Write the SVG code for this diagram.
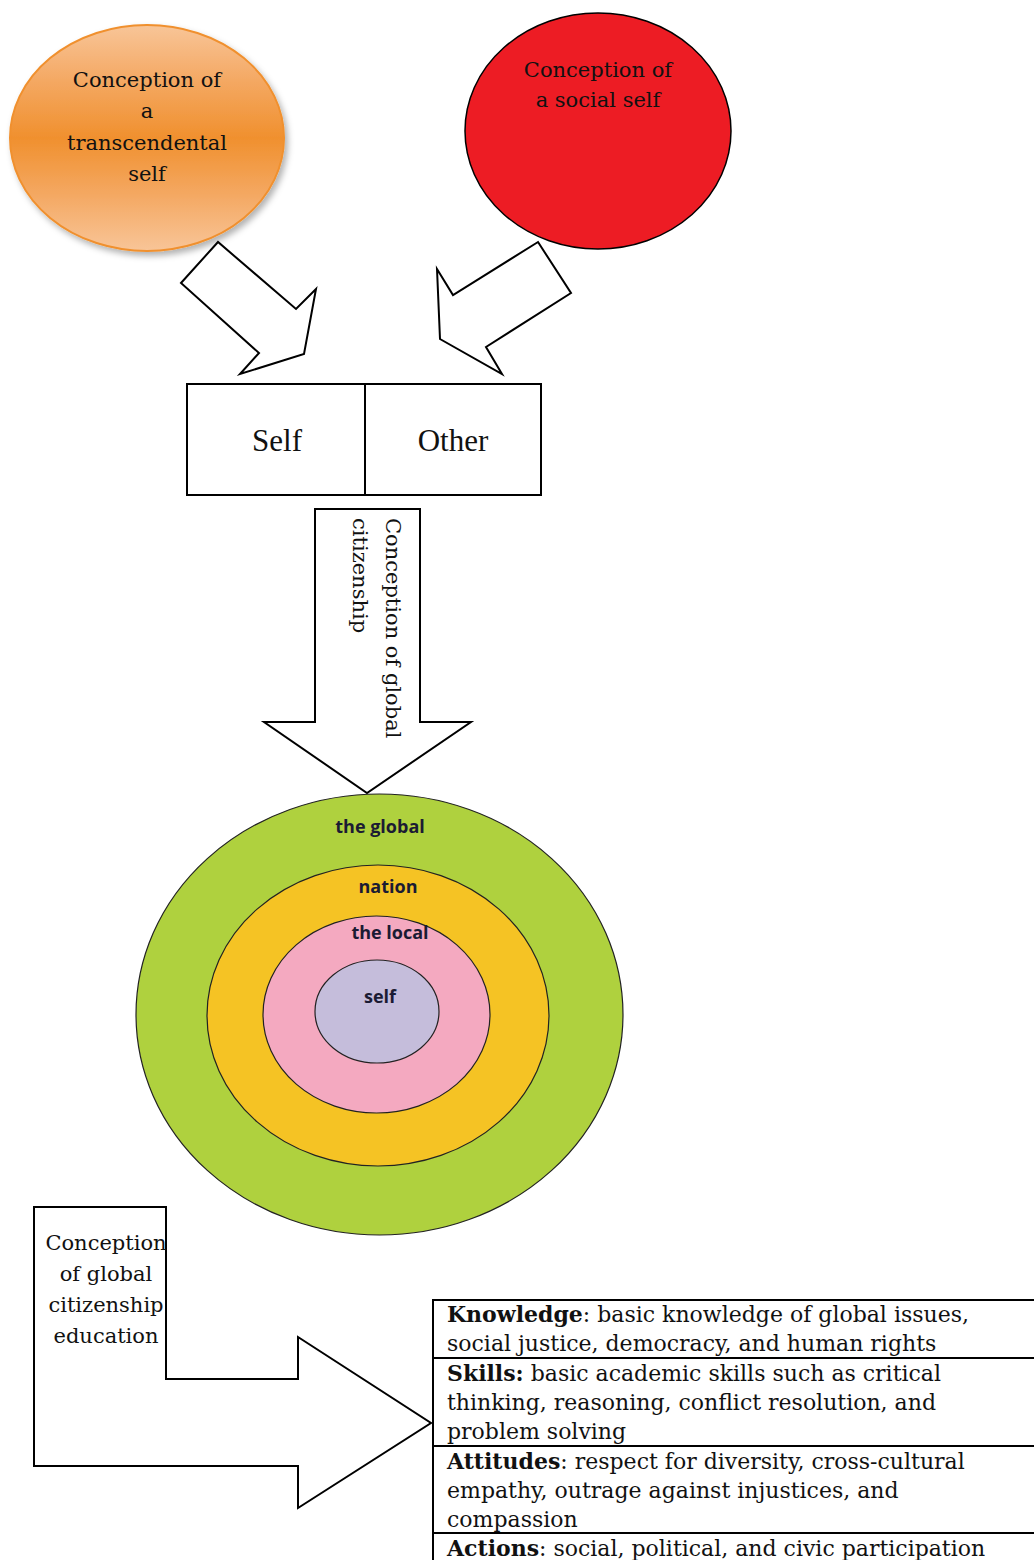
<svg xmlns="http://www.w3.org/2000/svg" width="1034" height="1560" viewBox="0 0 1034 1560">
<style>
.serif{font-family:"DejaVu Serif","Liberation Serif",serif;font-size:21px;fill:#111;}
.times{font-family:"Liberation Serif","Times New Roman",serif;font-size:31px;fill:#111;}
.lbl{font-family:"Open Sans","Lato",sans-serif;font-weight:bold;font-size:18px;fill:#1b1b33;}
.tbl{font-family:"DejaVu Serif","Liberation Serif",serif;font-size:22px;fill:#111;}
.shape{fill:#fff;stroke:#000;stroke-width:2;}
.ring{stroke:#222;stroke-width:1.2;}
</style>
<defs>
<linearGradient id="og" x1="0" y1="0" x2="0" y2="1">
<stop offset="0" stop-color="#F8C598"/>
<stop offset="0.25" stop-color="#F4A862"/>
<stop offset="0.5" stop-color="#F0902E"/>
<stop offset="0.75" stop-color="#F4A862"/>
<stop offset="1" stop-color="#F8C598"/>
</linearGradient>
<filter id="sh" x="-20%" y="-20%" width="140%" height="140%">
<feDropShadow dx="3" dy="4" stdDeviation="3" flood-color="#000" flood-opacity="0.3"/>
</filter>
</defs>

<g id="transcendental">
<ellipse cx="147" cy="138" rx="137" ry="113" fill="url(#og)" stroke="#F0902E" stroke-width="2" filter="url(#sh)"/>
<text class="serif" text-anchor="middle" x="147" y="87">Conception of</text>
<text class="serif" text-anchor="middle" x="147" y="118">a</text>
<text class="serif" text-anchor="middle" x="147" y="150">transcendental</text>
<text class="serif" text-anchor="middle" x="147" y="181">self</text>
</g>

<g id="social">
<ellipse cx="598" cy="131" rx="133" ry="118" fill="#ED1C24" stroke="#000" stroke-width="1.5"/>
<text class="serif" text-anchor="middle" x="598" y="77">Conception of</text>
<text class="serif" text-anchor="middle" x="598" y="107">a social self</text>
</g>

<g id="selfother">
<rect x="187" y="384" width="354" height="111" fill="#fff" stroke="#000" stroke-width="2"/>
<line x1="365" y1="384" x2="365" y2="495" stroke="#000" stroke-width="2"/>
<text class="times" text-anchor="middle" x="277" y="451">Self</text>
<text class="times" text-anchor="middle" x="453" y="451">Other</text>
</g>

<g id="connectors">
<polygon class="shape" points="218,242 181,283 259,353 240,374 304,354 316,289 296,309"/>
<polygon class="shape" points="538,242 571,293 486,347 502,374 440,339 437,269 453,295"/>
<polygon class="shape" points="315,509 420,509 420,722 471,722 367,793 264,722 315,722"/>
<polygon class="shape" points="34,1207 166,1207 166,1379 298,1379 298,1337 431,1423 298,1508 298,1466 34,1466"/>
</g>

<g id="gc-label">
<text class="serif" transform="translate(386,518) rotate(90)">Conception of global</text>
<text class="serif" transform="translate(353,518) rotate(90)">citizenship</text>
</g>

<g id="circles">
<ellipse class="ring" cx="379.5" cy="1014.5" rx="243.5" ry="220.5" fill="#AFD13E"/>
<ellipse class="ring" cx="378" cy="1015.5" rx="171" ry="150.5" fill="#F5C324"/>
<ellipse class="ring" cx="376.5" cy="1014.5" rx="113.5" ry="98.5" fill="#F4A9C0"/>
<ellipse class="ring" cx="377" cy="1011.5" rx="62" ry="51.5" fill="#C5BDDB"/>
<text class="lbl" text-anchor="middle" x="380" y="833">the global</text>
<text class="lbl" text-anchor="middle" x="388" y="893">nation</text>
<text class="lbl" text-anchor="middle" x="390" y="939">the local</text>
<text class="lbl" text-anchor="middle" x="380" y="1003">self</text>
</g>

<g id="gce-label">
<text class="serif" text-anchor="middle" x="106" y="1250">Conception</text>
<text class="serif" text-anchor="middle" x="106" y="1281">of global</text>
<text class="serif" text-anchor="middle" x="106" y="1312">citizenship</text>
<text class="serif" text-anchor="middle" x="106" y="1343">education</text>
</g>

<g id="table">
<rect x="433" y="1300" width="620" height="280" fill="#fff" stroke="#000" stroke-width="2"/>
<line x1="433" y1="1358" x2="1034" y2="1358" stroke="#000" stroke-width="2"/>
<line x1="433" y1="1446" x2="1034" y2="1446" stroke="#000" stroke-width="2"/>
<line x1="433" y1="1533" x2="1034" y2="1533" stroke="#000" stroke-width="2"/>
<text class="tbl" x="447" y="1322"><tspan font-weight="bold">Knowledge</tspan>: basic knowledge of global issues,</text>
<text class="tbl" x="447" y="1351">social justice, democracy, and  human rights</text>
<text class="tbl" x="447" y="1381"><tspan font-weight="bold">Skills:</tspan> basic academic skills such as critical</text>
<text class="tbl" x="447" y="1410">thinking, reasoning, conflict resolution, and</text>
<text class="tbl" x="447" y="1439">problem solving</text>
<text class="tbl" x="447" y="1469"><tspan font-weight="bold">Attitudes</tspan>: respect for diversity, cross-cultural</text>
<text class="tbl" x="447" y="1498">empathy, outrage against injustices, and</text>
<text class="tbl" x="447" y="1527">compassion</text>
<text class="tbl" x="447" y="1556"><tspan font-weight="bold">Actions</tspan>: social, political, and civic participation</text>
</g>
</svg>
